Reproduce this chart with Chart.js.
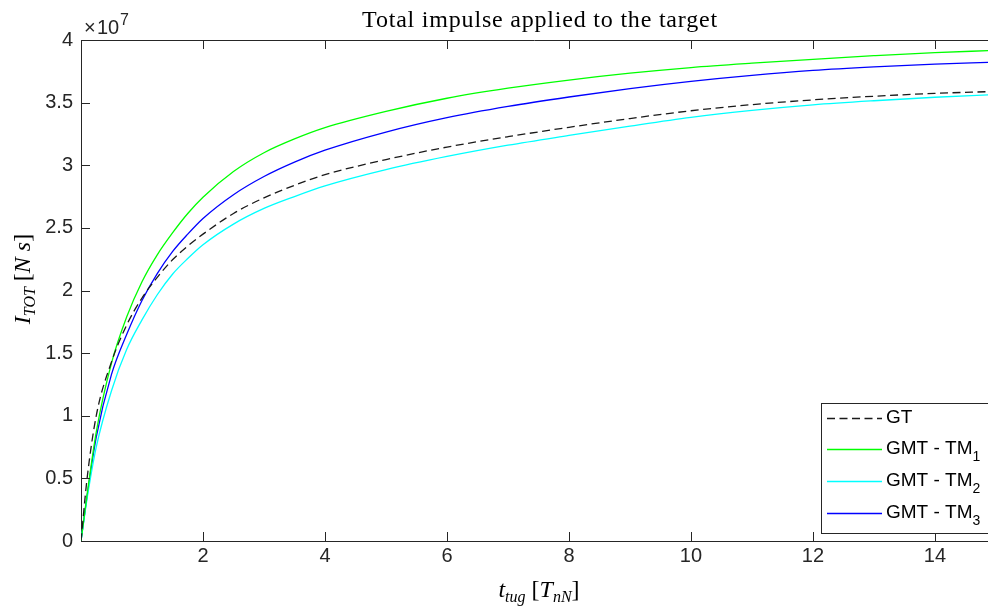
<!DOCTYPE html>
<html>
  <head>
    <meta charset="UTF-8">
    <title>Total impulse applied to the target</title>
    <script src="https://cdn.jsdelivr.net/npm/chart.js"></script>
    <style>
      html, body { margin: 0; padding: 0; background: #ffffff; }
      #wrap { width: 988px; height: 608px; }
    </style>
  </head>
  <body>
    <div id="wrap"><canvas id="impulseChart"></canvas></div>
    <script>
    // t_tug values [T_nN] and impulse values, in units of 1e7 N s
    const tVals = [0, 0.1, 0.25, 0.5, 0.75, 1, 1.25, 1.5, 1.75, 2, 2.5, 3, 3.5, 4, 5, 6, 7, 8, 9, 10, 11, 12, 13, 14, 14.9];
    const gtVals  = [0, 0.5, 1.0, 1.43, 1.725, 1.94, 2.105, 2.245, 2.355, 2.45, 2.615, 2.74, 2.84, 2.925, 3.045, 3.145, 3.228, 3.303, 3.373, 3.435, 3.484, 3.522, 3.551, 3.574, 3.588];
    const tm1Vals = [0, 0.37, 0.87, 1.42, 1.79, 2.07, 2.285, 2.46, 2.615, 2.745, 2.95, 3.10, 3.21, 3.30, 3.43, 3.535, 3.615, 3.68, 3.735, 3.78, 3.815, 3.846, 3.875, 3.90, 3.915];
    const tm2Vals = [0, 0.34, 0.75, 1.20, 1.53, 1.765, 1.966, 2.13, 2.255, 2.365, 2.53, 2.655, 2.75, 2.835, 2.965, 3.07, 3.16, 3.238, 3.313, 3.383, 3.438, 3.482, 3.515, 3.543, 3.562];
    const tm3Vals = [0, 0.36, 0.83, 1.33, 1.65, 1.92, 2.135, 2.31, 2.45, 2.575, 2.765, 2.91, 3.025, 3.12, 3.265, 3.38, 3.47, 3.545, 3.612, 3.67, 3.718, 3.757, 3.785, 3.807, 3.822];
    const xTicks = [0, 2, 4, 6, 8, 10, 12, 14];
    const seriesNames = ['GT', 'GMT - TM', 'GMT - TM', 'GMT - TM'];
    const seriesSubs = ['', '1', '2', '3'];

    const axisColor = '#262626';
    const sans = '"Liberation Sans", Arial, sans-serif';
    const serif = '"Liberation Serif", "DejaVu Serif", serif';

    function pts(vals) {
      return tVals.map((t, i) => ({ x: t, y: vals[i] }));
    }
    function line(label, vals, color, dash) {
      return {
        label: label, data: pts(vals), borderColor: color, borderWidth: 1.3,
        borderDash: dash, pointRadius: 0, fill: false,
        cubicInterpolationMode: 'monotone'
      };
    }

    // draws text pieces left to right: [text, font, dy]
    function drawRich(ctx, parts, x, y) {
      let cx = x;
      parts.forEach(p => {
        ctx.font = p[1];
        ctx.fillText(p[0], cx, y + (p[2] || 0));
        cx += ctx.measureText(p[0]).width;
      });
      return cx - x;
    }
    function richWidth(ctx, parts) {
      let w = 0;
      parts.forEach(p => { ctx.font = p[1]; w += ctx.measureText(p[0]).width; });
      return w;
    }

    const matlabLook = {
      id: 'matlabLook',
      afterDraw(chart) {
        const ctx = chart.ctx;
        const a = chart.chartArea;
        const xs = chart.scales.x, ys = chart.scales.y;
        ctx.save();
        // top axis line and inward ticks
        ctx.strokeStyle = axisColor;
        ctx.lineWidth = 1;
        ctx.setLineDash([]);
        ctx.beginPath();
        ctx.moveTo(a.left, a.top + 0.5);
        ctx.lineTo(a.right, a.top + 0.5);
        xs.ticks.forEach(t => {
          const px = Math.round(xs.getPixelForValue(t.value)) + 0.5;
          if (px <= a.left + 1) return;
          ctx.moveTo(px, a.bottom); ctx.lineTo(px, a.bottom - 9);
          ctx.moveTo(px, a.top); ctx.lineTo(px, a.top + 9);
        });
        ys.ticks.forEach(t => {
          const py = Math.round(ys.getPixelForValue(t.value)) + 0.5;
          ctx.moveTo(a.left, py); ctx.lineTo(a.left + 9, py);
        });
        ctx.stroke();

        ctx.fillStyle = '#000000';
        ctx.textBaseline = 'alphabetic';
        // title
        ctx.font = '24px ' + serif;
        ctx.letterSpacing = '0.8px';
        ctx.textAlign = 'center';
        ctx.fillText('Total impulse applied to the target', 540, 27);
        ctx.letterSpacing = '0px';
        ctx.textAlign = 'left';

        // exponent label
        ctx.fillStyle = axisColor;
        ctx.font = '20px ' + sans;
        ctx.fillText('\u00d7', 84, 34);
        ctx.fillText('10', 97, 34);
        ctx.font = '16px ' + sans;
        ctx.fillText('7', 120, 25);

        // x axis title
        ctx.fillStyle = '#000000';
        const it = 'italic 24px ' + serif, its = 'italic 16px ' + serif, up = '24px ' + serif;
        const xParts = [['t', it, 0], ['tug', its, 5], [' [', up, 0], ['T', it, 0], ['nN', its, 5], [']', up, 0]];
        const xw = richWidth(ctx, xParts);
        drawRich(ctx, xParts, 539 - xw / 2, 597);

        // y axis title (rotated)
        const yParts = [['I', it, 0], ['TOT', its, 5], [' [', up, 0], ['N s', it, 0], [']', up, 0]];
        const yw = richWidth(ctx, yParts);
        ctx.save();
        ctx.translate(30, 279);
        ctx.rotate(-Math.PI / 2);
        drawRich(ctx, yParts, -yw / 2, 0);
        ctx.restore();

        // legend box
        const lx = 821.5, ly = 403.5;
        ctx.fillStyle = '#ffffff';
        ctx.fillRect(lx, ly, 200, 130);
        ctx.strokeStyle = axisColor;
        ctx.strokeRect(lx, ly, 200, 130);
        const rows = [418, 449, 481, 513];
        chart.data.datasets.forEach((ds, i) => {
          ctx.strokeStyle = ds.borderColor;
          ctx.lineWidth = ds.borderWidth;
          ctx.setLineDash(ds.borderDash || []);
          ctx.beginPath();
          ctx.moveTo(827, rows[i] + 0.5);
          ctx.lineTo(882, rows[i] + 0.5);
          ctx.stroke();
          ctx.setLineDash([]);
          ctx.fillStyle = '#000000';
          ctx.textBaseline = 'middle';
          drawRich(ctx, [[seriesNames[i], '19px ' + sans, 0], [seriesSubs[i], '14px ' + sans, 8]], 886, rows[i]);
        });
        ctx.restore();
      }
    };

    window.onload = function() {
      new Chart(document.getElementById('impulseChart').getContext('2d'), {
        type: 'line',
        data: {
          datasets: [
            line('GT', gtVals, '#1a1a1a', [8, 4.5]),
            line('GMT - TM1', tm1Vals, '#00ff00', []),
            line('GMT - TM2', tm2Vals, '#00ffff', []),
            line('GMT - TM3', tm3Vals, '#0000ff', [])
          ]
        },
        options: {
          responsive: true,
          maintainAspectRatio: false,
          animation: false,
          layout: { padding: { top: 40, right: 0, left: 0, bottom: 0 } },
          plugins: { legend: { display: false }, tooltip: { enabled: false } },
          scales: {
            x: {
              type: 'linear', min: 0, max: 14.87,
              afterBuildTicks(s) { s.ticks = xTicks.map(v => ({ value: v })); },
              afterFit(s) { s.height = 67; },
              grid: { display: true, drawOnChartArea: false, drawTicks: false },
              border: { display: true, color: axisColor, width: 1 },
              ticks: {
                padding: 3, color: axisColor, maxRotation: 0, autoSkip: false,
                font: { family: sans, size: 20 },
                callback: v => v === 0 ? '' : String(v)
              }
            },
            y: {
              min: 0, max: 4,
              afterFit(s) { s.width = 81; },
              grid: { display: true, drawOnChartArea: false, drawTicks: false },
              border: { display: true, color: axisColor, width: 1 },
              ticks: {
                stepSize: 0.5, padding: 8, color: axisColor,
                font: { family: sans, size: 20 },
                callback: v => String(v)
              }
            }
          }
        },
        plugins: [matlabLook]
      });
    };
  </script>
  </body>
</html>
